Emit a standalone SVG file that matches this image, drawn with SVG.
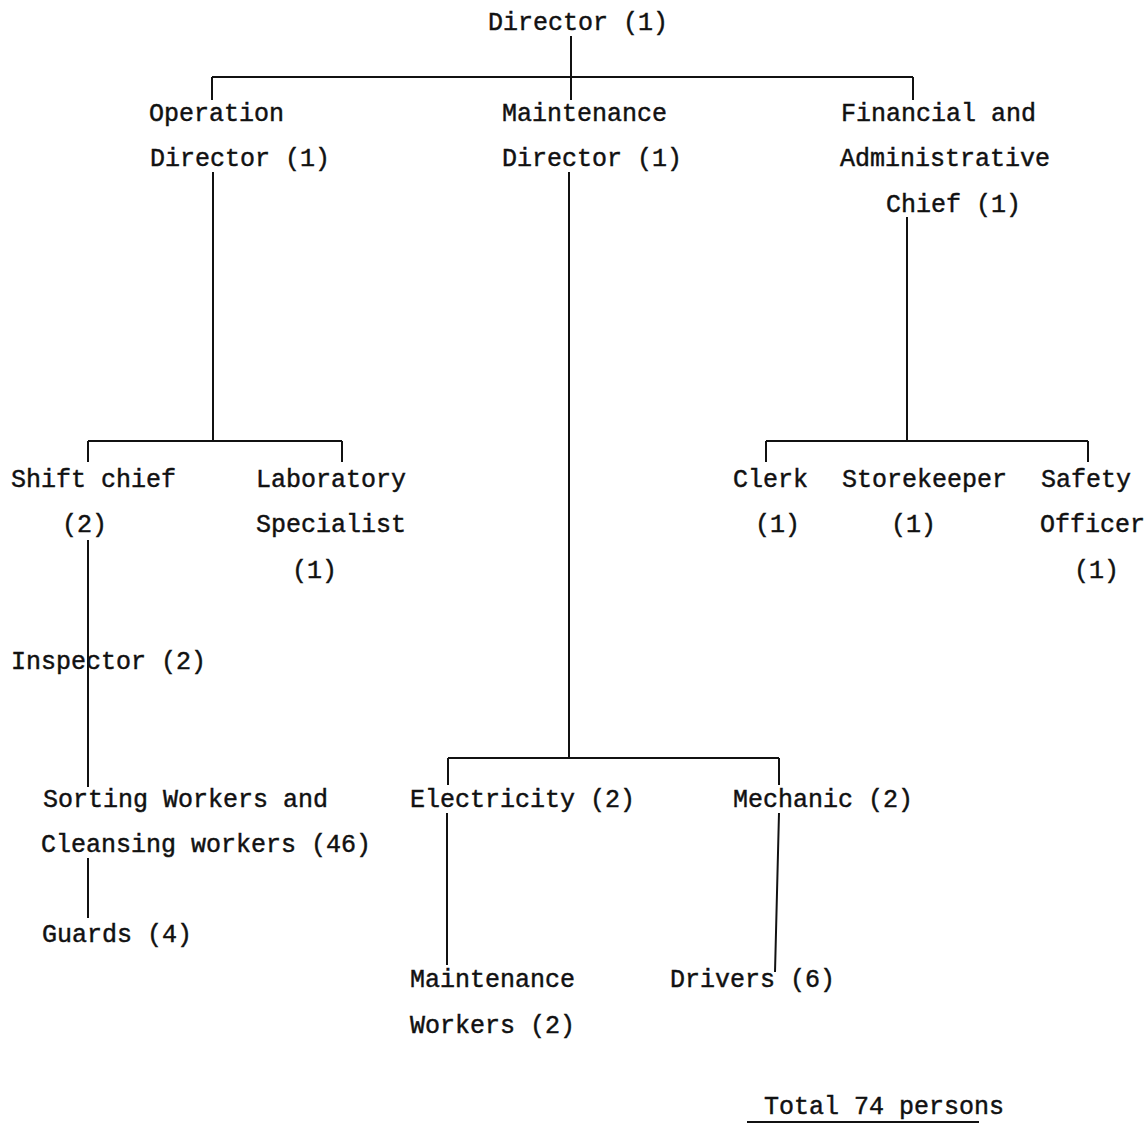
<svg xmlns="http://www.w3.org/2000/svg" width="1148" height="1133" viewBox="0 0 1148 1133">
  <style>
    text { font-family: "Liberation Mono", "Courier New", monospace; font-size: 25px; fill: #111; stroke: #111; stroke-width: 0.45px; }
    .link { stroke: #111; stroke-width: 2; fill: none; }
  </style>
  <rect width="1148" height="1133" fill="#fff"/>

  <!-- connectors -->
  <g id="connectors">
    <!-- Director to first tier -->
    <path class="link" d="M571 36 V100 M212 77 H913 M212 77 V100 M913 77 V100"/>
    <!-- Operation Director -->
    <path class="link" d="M213 172 V441 M88 441 H342 M88 441 V462 M342 441 V462"/>
    <!-- Shift chief chain -->
    <path class="link" d="M88 540 V787 M88 858 V918"/>
    <!-- Maintenance Director -->
    <path class="link" d="M569 172 V758 M448 758 H779 M448 758 V785 M779 758 V785"/>
    <path class="link" d="M447 813 V965 M779 813 L775 972"/>
    <!-- Financial and Administrative Chief -->
    <path class="link" d="M907 217 V441 M766 441 H1088 M766 441 V462 M1088 441 V462"/>
    <!-- total underline -->
    <path class="link" d="M747 1122 H979"/>
  </g>

  <g id="director"><text x="488" y="30">Director (1)</text></g>

  <g id="operation-director">
    <text x="149" y="121">Operation</text>
    <text x="150" y="166">Director (1)</text>
  </g>
  <g id="maintenance-director">
    <text x="502" y="121">Maintenance</text>
    <text x="502" y="166">Director (1)</text>
  </g>
  <g id="financial-chief">
    <text x="841" y="121">Financial and</text>
    <text x="840" y="166">Administrative</text>
    <text x="886" y="212">Chief (1)</text>
  </g>

  <g id="shift-chief">
    <text x="11" y="487">Shift chief</text>
    <text x="62" y="532">(2)</text>
  </g>
  <g id="laboratory-specialist">
    <text x="256" y="487">Laboratory</text>
    <text x="256" y="532">Specialist</text>
    <text x="292" y="578">(1)</text>
  </g>
  <g id="clerk">
    <text x="733" y="487">Clerk</text>
    <text x="755" y="532">(1)</text>
  </g>
  <g id="storekeeper">
    <text x="842" y="487">Storekeeper</text>
    <text x="891" y="532">(1)</text>
  </g>
  <g id="safety-officer">
    <text x="1041" y="487">Safety</text>
    <text x="1040" y="532">Officer</text>
    <text x="1074" y="578">(1)</text>
  </g>

  <g id="inspector"><text x="11" y="669">Inspector (2)</text></g>
  <g id="sorting-workers">
    <text x="43" y="807">Sorting Workers and</text>
    <text x="41" y="852">Cleansing workers (46)</text>
  </g>
  <g id="guards"><text x="42" y="942">Guards (4)</text></g>

  <g id="electricity"><text x="410" y="807">Electricity (2)</text></g>
  <g id="mechanic"><text x="733" y="807">Mechanic (2)</text></g>
  <g id="maintenance-workers">
    <text x="410" y="987">Maintenance</text>
    <text x="410" y="1033">Workers (2)</text>
  </g>
  <g id="drivers"><text x="670" y="987">Drivers (6)</text></g>

  <g id="total"><text x="764" y="1114">Total 74 persons</text></g>
</svg>
